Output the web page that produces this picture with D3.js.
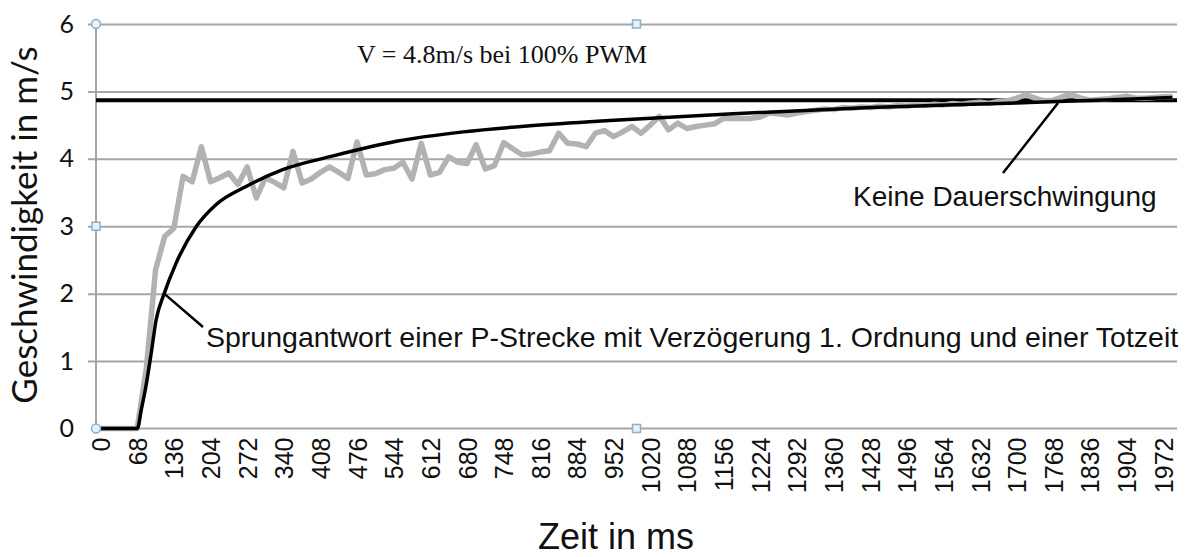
<!DOCTYPE html>
<html>
<head>
<meta charset="utf-8">
<script src="https://cdn.jsdelivr.net/npm/d3@7"></script>
<style>
  html, body { margin: 0; padding: 0; background: #fff; }
  svg { display: block; }
</style>
</head>
<body>
<svg class="chart" width="1187" height="557"></svg>
<script>
// sample time of the measurement (ms) -> one category every 17 ms
const sampleStep = 17;
const sampleCount = 118;

// x tick labels (every 4th category)
const xTickLabels = [0, 68, 136, 204, 272, 340, 408, 476, 544, 612, 680, 748, 816, 884, 952,
    1020, 1088, 1156, 1224, 1292, 1360, 1428, 1496, 1564, 1632, 1700, 1768, 1836, 1904, 1972];
const yTicks = [0, 1, 2, 3, 4, 5, 6];

// measured speed (grey), one value per sample
const measured = [
    0, 0, 0, 0, 0, 0.9, 2.35, 2.85, 2.97, 3.74,
    3.66, 4.18, 3.66, 3.72, 3.79, 3.62, 3.88, 3.42, 3.72, 3.65,
    3.57, 4.11, 3.64, 3.70, 3.80, 3.88, 3.80, 3.71, 4.25, 3.76,
    3.78, 3.84, 3.86, 3.95, 3.70, 4.23, 3.76, 3.80, 4.03, 3.95,
    3.93, 4.21, 3.85, 3.90, 4.24, 4.15, 4.06, 4.07, 4.10, 4.12,
    4.38, 4.23, 4.22, 4.18, 4.38, 4.42, 4.33, 4.40, 4.48, 4.38,
    4.50, 4.63, 4.43, 4.53, 4.45, 4.48, 4.50, 4.52, 4.60, 4.60,
    4.60, 4.60, 4.62, 4.68, 4.67, 4.65, 4.68, 4.70, 4.72, 4.74,
    4.73, 4.76, 4.75, 4.77, 4.76, 4.78, 4.77, 4.79, 4.78, 4.80,
    4.79, 4.81, 4.80, 4.82, 4.81, 4.83, 4.84, 4.82, 4.85, 4.86,
    4.90, 4.95, 4.90, 4.86, 4.87, 4.92, 4.95, 4.90, 4.87, 4.88,
    4.89, 4.91, 4.93, 4.90, 4.90, 4.91, 4.92, 4.92
];

// step response of the P-T1 model with dead time (black)
const modelTimes  = [0, 68, 76, 84, 94, 103, 118, 140, 177, 214, 270, 338, 430, 549, 673, 797, 945, 1174, 1428, 1700, 1890, 1989];
const modelValues = [0, 0, 0.3, 0.62, 1.12, 1.61, 2.0, 2.45, 2.99, 3.32, 3.59, 3.84, 4.04, 4.26, 4.40, 4.49, 4.57, 4.67, 4.76, 4.83, 4.88, 4.91];

const vMaxLine = 4.87;

const plot = { left: 96, right: 1177, top: 24, bottom: 428.5 };

const svg = d3.select('.chart');

const xScale = d3.scaleLinear()
    .domain([-sampleStep / 2, (sampleCount - 0.5) * sampleStep])
    .range([plot.left, plot.right]);
const yScale = d3.scaleLinear()
    .domain([0, 6])
    .range([plot.bottom, plot.top]);

// gridlines (they poke out left of the axis like excel tick marks)
svg.append('g')
    .attr('transform', `translate(${plot.left},0)`)
    .call(d3.axisLeft(yScale).tickValues(yTicks.filter(d => d > 0))
        .tickSizeInner(-(plot.right - plot.left)).tickSizeOuter(0).tickFormat(''))
    .call(g => g.select('.domain').remove())
    .call(g => g.selectAll('line').attr('stroke', '#a6a6a6').attr('stroke-width', 2).attr('x1', -8));

// y axis labels
svg.append('g')
    .classed('y-axis', true)
    .attr('transform', `translate(${plot.left},0)`)
    .call(d3.axisLeft(yScale).tickValues(yTicks).tickSize(0).tickPadding(22).tickFormat(d3.format('d')))
    .call(g => g.select('.domain').remove())
    .call(g => g.selectAll('text')
        .style('font-family', 'Lato, "Liberation Sans", sans-serif')
        .style('font-size', '25px')
        .attr('fill', '#111'));

// axis lines
svg.append('line')
    .attr('x1', plot.left).attr('x2', plot.left)
    .attr('y1', plot.top).attr('y2', plot.bottom)
    .attr('stroke', '#a6a6a6').attr('stroke-width', 2);
svg.append('line')
    .attr('x1', plot.left).attr('x2', plot.right)
    .attr('y1', plot.bottom).attr('y2', plot.bottom)
    .attr('stroke', '#a6a6a6').attr('stroke-width', 2);

// x axis labels
svg.append('g')
    .classed('x-axis', true)
    .attr('transform', `translate(0,${plot.bottom})`)
    .call(d3.axisBottom(xScale).tickValues(xTickLabels).tickSize(0).tickFormat(d3.format('d')))
    .call(g => g.select('.domain').remove())
    .call(g => g.selectAll('text')
        .attr('transform', 'rotate(-90)')
        .attr('x', -9)
        .attr('y', 0)
        .attr('dy', '0.36em')
        .style('text-anchor', 'end')
        .style('font-family', '"Liberation Sans", Arial, sans-serif')
        .style('font-size', '25px')
        .attr('fill', '#111'));

// 100% PWM line
svg.append('line')
    .attr('x1', plot.left).attr('x2', plot.right)
    .attr('y1', yScale(vMaxLine)).attr('y2', yScale(vMaxLine))
    .attr('stroke', '#000').attr('stroke-width', 4);

const measuredData = measured.map((v, i) => ({ t: i * sampleStep, v: v }));

const line = d3.line()
    .x(function(d) { return xScale(d.t); })
    .y(function(d) { return yScale(d.v); });

svg.append('path')
    .datum(measuredData)
    .attr('d', line)
    .style('fill', 'none')
    .style('stroke', '#b2b2b2')
    .style('stroke-width', 5.5)
    .style('stroke-linejoin', 'round');

const modelData = modelTimes.map((t, i) => ({ t: t, v: modelValues[i] }));

svg.append('path')
    .datum(modelData)
    .attr('d', line.curve(d3.curveMonotoneX))
    .style('fill', 'none')
    .style('stroke', '#000')
    .style('stroke-width', 3.5);

// annotations
svg.append('text')
    .attr('x', 357).attr('y', 63)
    .style('font-family', '"Liberation Serif", "Times New Roman", serif')
    .style('font-size', '26px')
    .attr('fill', '#111')
    .text('V = 4.8m/s bei 100% PWM');

svg.append('line')
    .attr('x1', xScale(118)).attr('y1', yScale(2.0))
    .attr('x2', 203).attr('y2', 327)
    .attr('stroke', '#000').attr('stroke-width', 2.5);
svg.append('text')
    .attr('x', 206).attr('y', 347)
    .style('font-family', '"Liberation Sans", Arial, sans-serif')
    .style('font-size', '28.5px')
    .attr('fill', '#111')
    .text('Sprungantwort einer P-Strecke mit Verzögerung 1. Ordnung und einer Totzeit');

svg.append('line')
    .attr('x1', 1003).attr('y1', 173)
    .attr('x2', 1058).attr('y2', 103)
    .attr('stroke', '#000').attr('stroke-width', 2.5);
svg.append('text')
    .attr('x', 853).attr('y', 206)
    .style('font-family', '"Liberation Sans", Arial, sans-serif')
    .style('font-size', '28px')
    .attr('fill', '#111')
    .text('Keine Dauerschwingung');

// axis titles
svg.append('text')
    .attr('transform', 'translate(37,225) rotate(-90)')
    .style('text-anchor', 'middle')
    .style('font-family', 'Lato, "Liberation Sans", sans-serif')
    .style('font-size', '35px')
    .attr('fill', '#111')
    .text('Geschwindigkeit in m/s');

svg.append('text')
    .attr('x', 616).attr('y', 549)
    .style('text-anchor', 'middle')
    .style('font-family', '"Liberation Sans", Arial, sans-serif')
    .style('font-size', '36px')
    .attr('fill', '#111')
    .text('Zeit in ms');

// selection handles of the chart object
const midX = (plot.left + plot.right) / 2;
const midY = (plot.top + plot.bottom) / 2;
[[plot.left, plot.top], [plot.left, plot.bottom]].forEach(p => {
    svg.append('circle')
        .attr('cx', p[0]).attr('cy', p[1]).attr('r', 4.5)
        .attr('fill', '#e3f1f8').attr('stroke', '#8fb0c8').attr('stroke-width', 1.5);
});
[[midX, plot.top], [plot.left, midY], [midX, plot.bottom]].forEach(p => {
    svg.append('rect')
        .attr('x', p[0] - 4).attr('y', p[1] - 4).attr('width', 8).attr('height', 8)
        .attr('fill', '#e3f1f8').attr('stroke', '#8fb0c8').attr('stroke-width', 1.5);
});
</script>
</body>
</html>
